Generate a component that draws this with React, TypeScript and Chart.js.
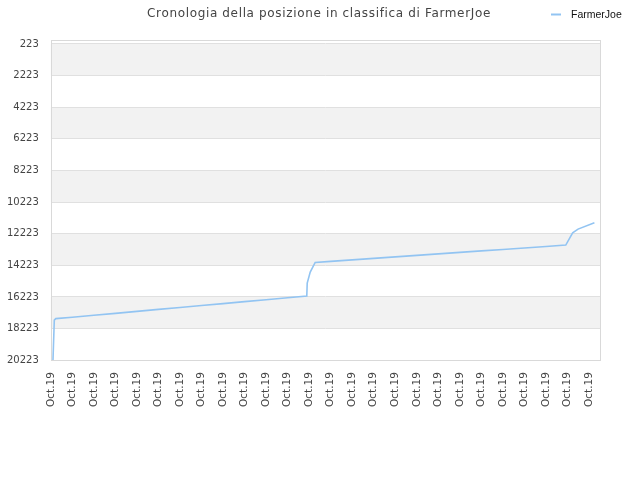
import React, { useEffect, useRef } from "react";
import { Chart, registerables } from "chart.js";

Chart.register(...registerables);

const chartTitle = "Cronologia della posizione in classifica di FarmerJoe";
const seriesLabel = "FarmerJoe";

const xTickPositions = [0, 1, 2, 3, 4, 5, 6, 7, 8, 9, 10, 11, 12, 13, 14, 15, 16, 17, 18, 19, 20, 21, 22, 23, 24, 25];
const xTickLabels = [
  "Oct.19", "Oct.19", "Oct.19", "Oct.19", "Oct.19", "Oct.19", "Oct.19", "Oct.19", "Oct.19",
  "Oct.19", "Oct.19", "Oct.19", "Oct.19", "Oct.19", "Oct.19", "Oct.19", "Oct.19", "Oct.19",
  "Oct.19", "Oct.19", "Oct.19", "Oct.19", "Oct.19", "Oct.19", "Oct.19", "Oct.19",
];
const yTickValues = [223, 2223, 4223, 6223, 8223, 10223, 12223, 14223, 16223, 18223, 20223];

const timePoints = [
  0.1, 0.116, 0.162, 0.232, 1, 2, 3, 4, 5, 6, 7, 8, 9, 10, 11, 11.89,
  11.91, 12.05, 12.28, 13, 14, 15, 16, 17, 18, 19, 20, 21, 22, 23, 23.92,
  24.24, 24.49, 25.25,
];
const ranks = [
  20223, 19590, 17690, 17596, 17505, 17380, 17262, 17135, 17010, 16895, 16770, 16650, 16522, 16405, 16280, 16170,
  15349, 14653, 14040, 13972, 13878, 13784, 13690, 13596, 13502, 13408, 13313, 13219, 13125, 13031, 12945,
  12166, 11932, 11533,
];

const lineColor = "#92c4f2";

const decorPlugin = {
  id: "decor",
  beforeDraw(chart: any) {
    const { ctx, chartArea, scales } = chart;
    const y = scales.y;
    ctx.save();
    ctx.fillStyle = "#ffffff";
    ctx.fillRect(0, 0, chart.width, chart.height);
    ctx.fillStyle = "#f2f2f2";
    for (let i = 0; i + 1 < yTickValues.length; i += 2) {
      const top = y.getPixelForValue(yTickValues[i]);
      const bot = y.getPixelForValue(yTickValues[i + 1]);
      ctx.fillRect(chartArea.left, top, chartArea.right - chartArea.left, bot - top);
    }
    ctx.restore();
  },
  afterDraw(chart: any) {
    const { ctx, chartArea } = chart;
    ctx.save();
    ctx.strokeStyle = "#d9d9d9";
    ctx.lineWidth = 1;
    ctx.strokeRect(
      Math.round(chartArea.left) + 0.5,
      Math.round(chartArea.top) + 0.5,
      Math.round(chartArea.right - chartArea.left),
      Math.round(chartArea.bottom - chartArea.top)
    );
    // title
    ctx.fillStyle = "#444444";
    ctx.font = "12px 'DejaVu Sans'";
    (ctx as any).letterSpacing = "0.65px";
    ctx.textAlign = "center";
    ctx.textBaseline = "alphabetic";
    ctx.fillText(chartTitle, 319, 17);
    (ctx as any).letterSpacing = "0px";
    // legend
    const ds = chart.data.datasets[0];
    ctx.strokeStyle = ds.borderColor;
    ctx.lineWidth = 2;
    ctx.beginPath();
    ctx.moveTo(551, 14.5);
    ctx.lineTo(561, 14.5);
    ctx.stroke();
    ctx.fillStyle = "#111111";
    ctx.font = "10.5px 'Liberation Sans'";
    ctx.textAlign = "left";
    ctx.textBaseline = "middle";
    ctx.fillText(ds.label, 571, 15);
    ctx.restore();
  },
};

export default function App() {
  const canvasRef = useRef<HTMLCanvasElement | null>(null);

  useEffect(() => {
    document.body.style.margin = "0";
    const canvas = canvasRef.current;
    if (!canvas) return;
    const chart = new Chart(canvas, {
      type: "line",
      data: {
        datasets: [
          {
            label: seriesLabel,
            data: timePoints.map((t, i) => ({ x: t, y: ranks[i] })),
            borderColor: lineColor,
            backgroundColor: lineColor,
            borderWidth: 1.6,
            pointRadius: 0,
            tension: 0,
            fill: false,
          },
        ],
      },
      options: {
        animation: false,
        responsive: false,
        devicePixelRatio: 1,
        layout: { padding: { left: -5, right: 40, top: 40, bottom: 61 } },
        plugins: {
          legend: { display: false },
          title: { display: false },
          tooltip: { enabled: false },
        },
        scales: {
          x: {
            type: "linear",
            min: 0,
            max: 25.51,
            afterBuildTicks: (scale: any) => {
              scale.ticks = xTickPositions.map((v) => ({ value: v }));
            },
            grid: { display: false, drawTicks: false },
            border: { display: false },
            ticks: {
              autoSkip: false,
              maxRotation: 90,
              minRotation: 90,
              padding: 12,
              color: "#444444",
              font: { family: "'DejaVu Sans'", size: 10.5 },
              callback: (_v: any, index: number) => xTickLabels[index],
            },
          },
          y: {
            type: "linear",
            reverse: true,
            min: -30,
            max: 20223,
            afterBuildTicks: (scale: any) => {
              scale.ticks = yTickValues.map((v) => ({ value: v }));
            },
            grid: { color: "#e0e0e0", drawTicks: false, lineWidth: 1 },
            border: { display: false },
            ticks: {
              padding: 12,
              color: "#444444",
              font: { family: "'DejaVu Sans'", size: 10 },
              callback: (v: any) => String(v),
            },
          },
        },
      },
      plugins: [decorPlugin],
    });
    return () => chart.destroy();
  }, []);

  return (
    <div style={{ width: 640, height: 480 }}>
      <canvas ref={canvasRef} width={640} height={480} />
    </div>
  );
}
